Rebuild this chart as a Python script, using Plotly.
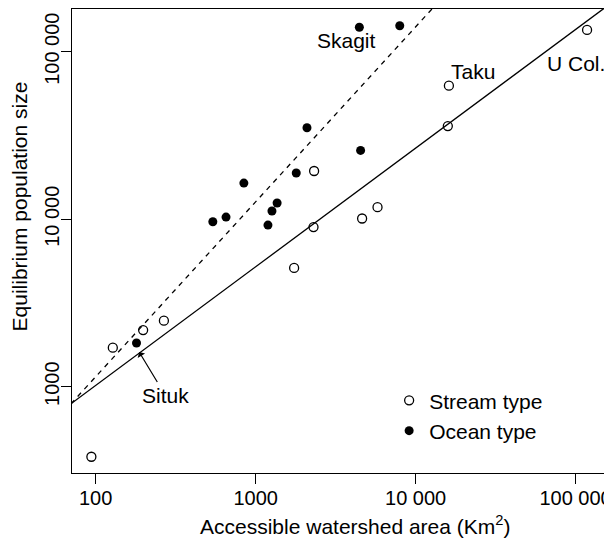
import plotly.graph_objects as go
import math

# ---- data ----
stream_area = [94, 128, 198, 267, 1740, 2300, 2320, 4630, 5780, 15900, 16150, 118000]
stream_pop = [382, 1711, 2179, 2478, 5120, 8980, 19400, 10100, 11800, 36000, 62700, 135000]

ocean_area = [180, 540, 653, 844, 1194, 1265, 1362, 1794, 2094, 4530, 4450, 7960]
ocean_pop = [1824, 9660, 10300, 16440, 9225, 11200, 12500, 18870, 35170, 25760, 140000, 142900]

# regression lines (endpoints)
stream_fit_x = [70, 150000]
stream_fit_y = [790, 181000]
ocean_fit_x = [70, 13000]
ocean_fit_y = [790, 185000]

x_tickvals = [100, 1000, 10000, 100000]
x_ticktext = ["100", "1000", "10 000", "100 000"]
y_tickvals = [1000, 10000, 100000]
y_ticktext = ["1000", "10 000", "100 000"]

labels = [("Skagit", 3715, 115900), ("Taku", 23000, 76700), ("U Col.", 101000, 84500)]
situk_point = (187, 1611)

FONT = "Liberation Sans, Arial, Helvetica, sans-serif"
FS = 20
FT = 21

fig = go.Figure()
fig.add_trace(go.Scatter(x=stream_fit_x, y=stream_fit_y, mode="lines",
                         line=dict(color="black", width=1.3), showlegend=False, hoverinfo="skip"))
fig.add_trace(go.Scatter(x=ocean_fit_x, y=ocean_fit_y, mode="lines",
                         line=dict(color="black", width=1.3, dash="5px,5px"), showlegend=False, hoverinfo="skip"))
fig.add_trace(go.Scatter(x=stream_area, y=stream_pop, mode="markers", name="Stream type",
                         marker=dict(symbol="circle-open", size=9, color="black", line=dict(width=1.3))))
fig.add_trace(go.Scatter(x=ocean_area, y=ocean_pop, mode="markers", name="Ocean type",
                         marker=dict(symbol="circle", size=9, color="black")))

for txt, xv, yv in labels:
    fig.add_annotation(x=math.log10(xv), y=math.log10(yv), text=txt, showarrow=False,
                       font=dict(family=FONT, size=FT, color="black"))

fig.add_annotation(x=math.log10(situk_point[0]), y=math.log10(situk_point[1]), text="Situk",
                   showarrow=True, arrowhead=1, arrowsize=1.2, arrowwidth=1.2, arrowcolor="black",
                   ax=26, ay=43, font=dict(family=FONT, size=FT, color="black"))

# axis titles
fig.add_annotation(xref="paper", yref="paper", x=0.531, y=-0.113, xanchor="center", yanchor="middle",
                   text="Accessible watershed area (Km<sup>2</sup>)", showarrow=False,
                   font=dict(family=FONT, size=FT, color="black"))
fig.add_annotation(xref="paper", yref="paper", x=-0.099, y=0.575, xanchor="center", yanchor="middle",
                   text="Equilibrium population size", textangle=-90, showarrow=False,
                   font=dict(family=FONT, size=FT, color="black"))

axis_common = dict(type="log", showgrid=False, zeroline=False, showline=True, linecolor="black",
                   linewidth=1.3, mirror=True, ticks="outside", ticklen=10, tickwidth=1.2,
                   tickcolor="black", tickfont=dict(family=FONT, size=FS, color="black"))

fig.update_xaxes(range=[1.852, 5.184], tickvals=x_tickvals, ticktext=x_ticktext,
                 ticklabelstandoff=-3, **axis_common)
fig.update_yaxes(range=[2.485, 5.255], tickvals=y_tickvals, ticktext=y_ticktext, tickangle=-90,
                 ticklabelstandoff=-6, **axis_common)

fig.update_layout(
    width=604, height=533,
    margin=dict(l=63.5, r=6.5, t=1, b=68, autoexpand=False),
    paper_bgcolor="white", plot_bgcolor="white",
    font=dict(family=FONT, size=FS, color="black"),
    legend=dict(x=0.595, y=0.20, xanchor="left", yanchor="top", bgcolor="rgba(0,0,0,0)",
                font=dict(family=FONT, size=FT, color="black"), itemwidth=30, tracegroupgap=0),
)

fig.write_html("out.html")
